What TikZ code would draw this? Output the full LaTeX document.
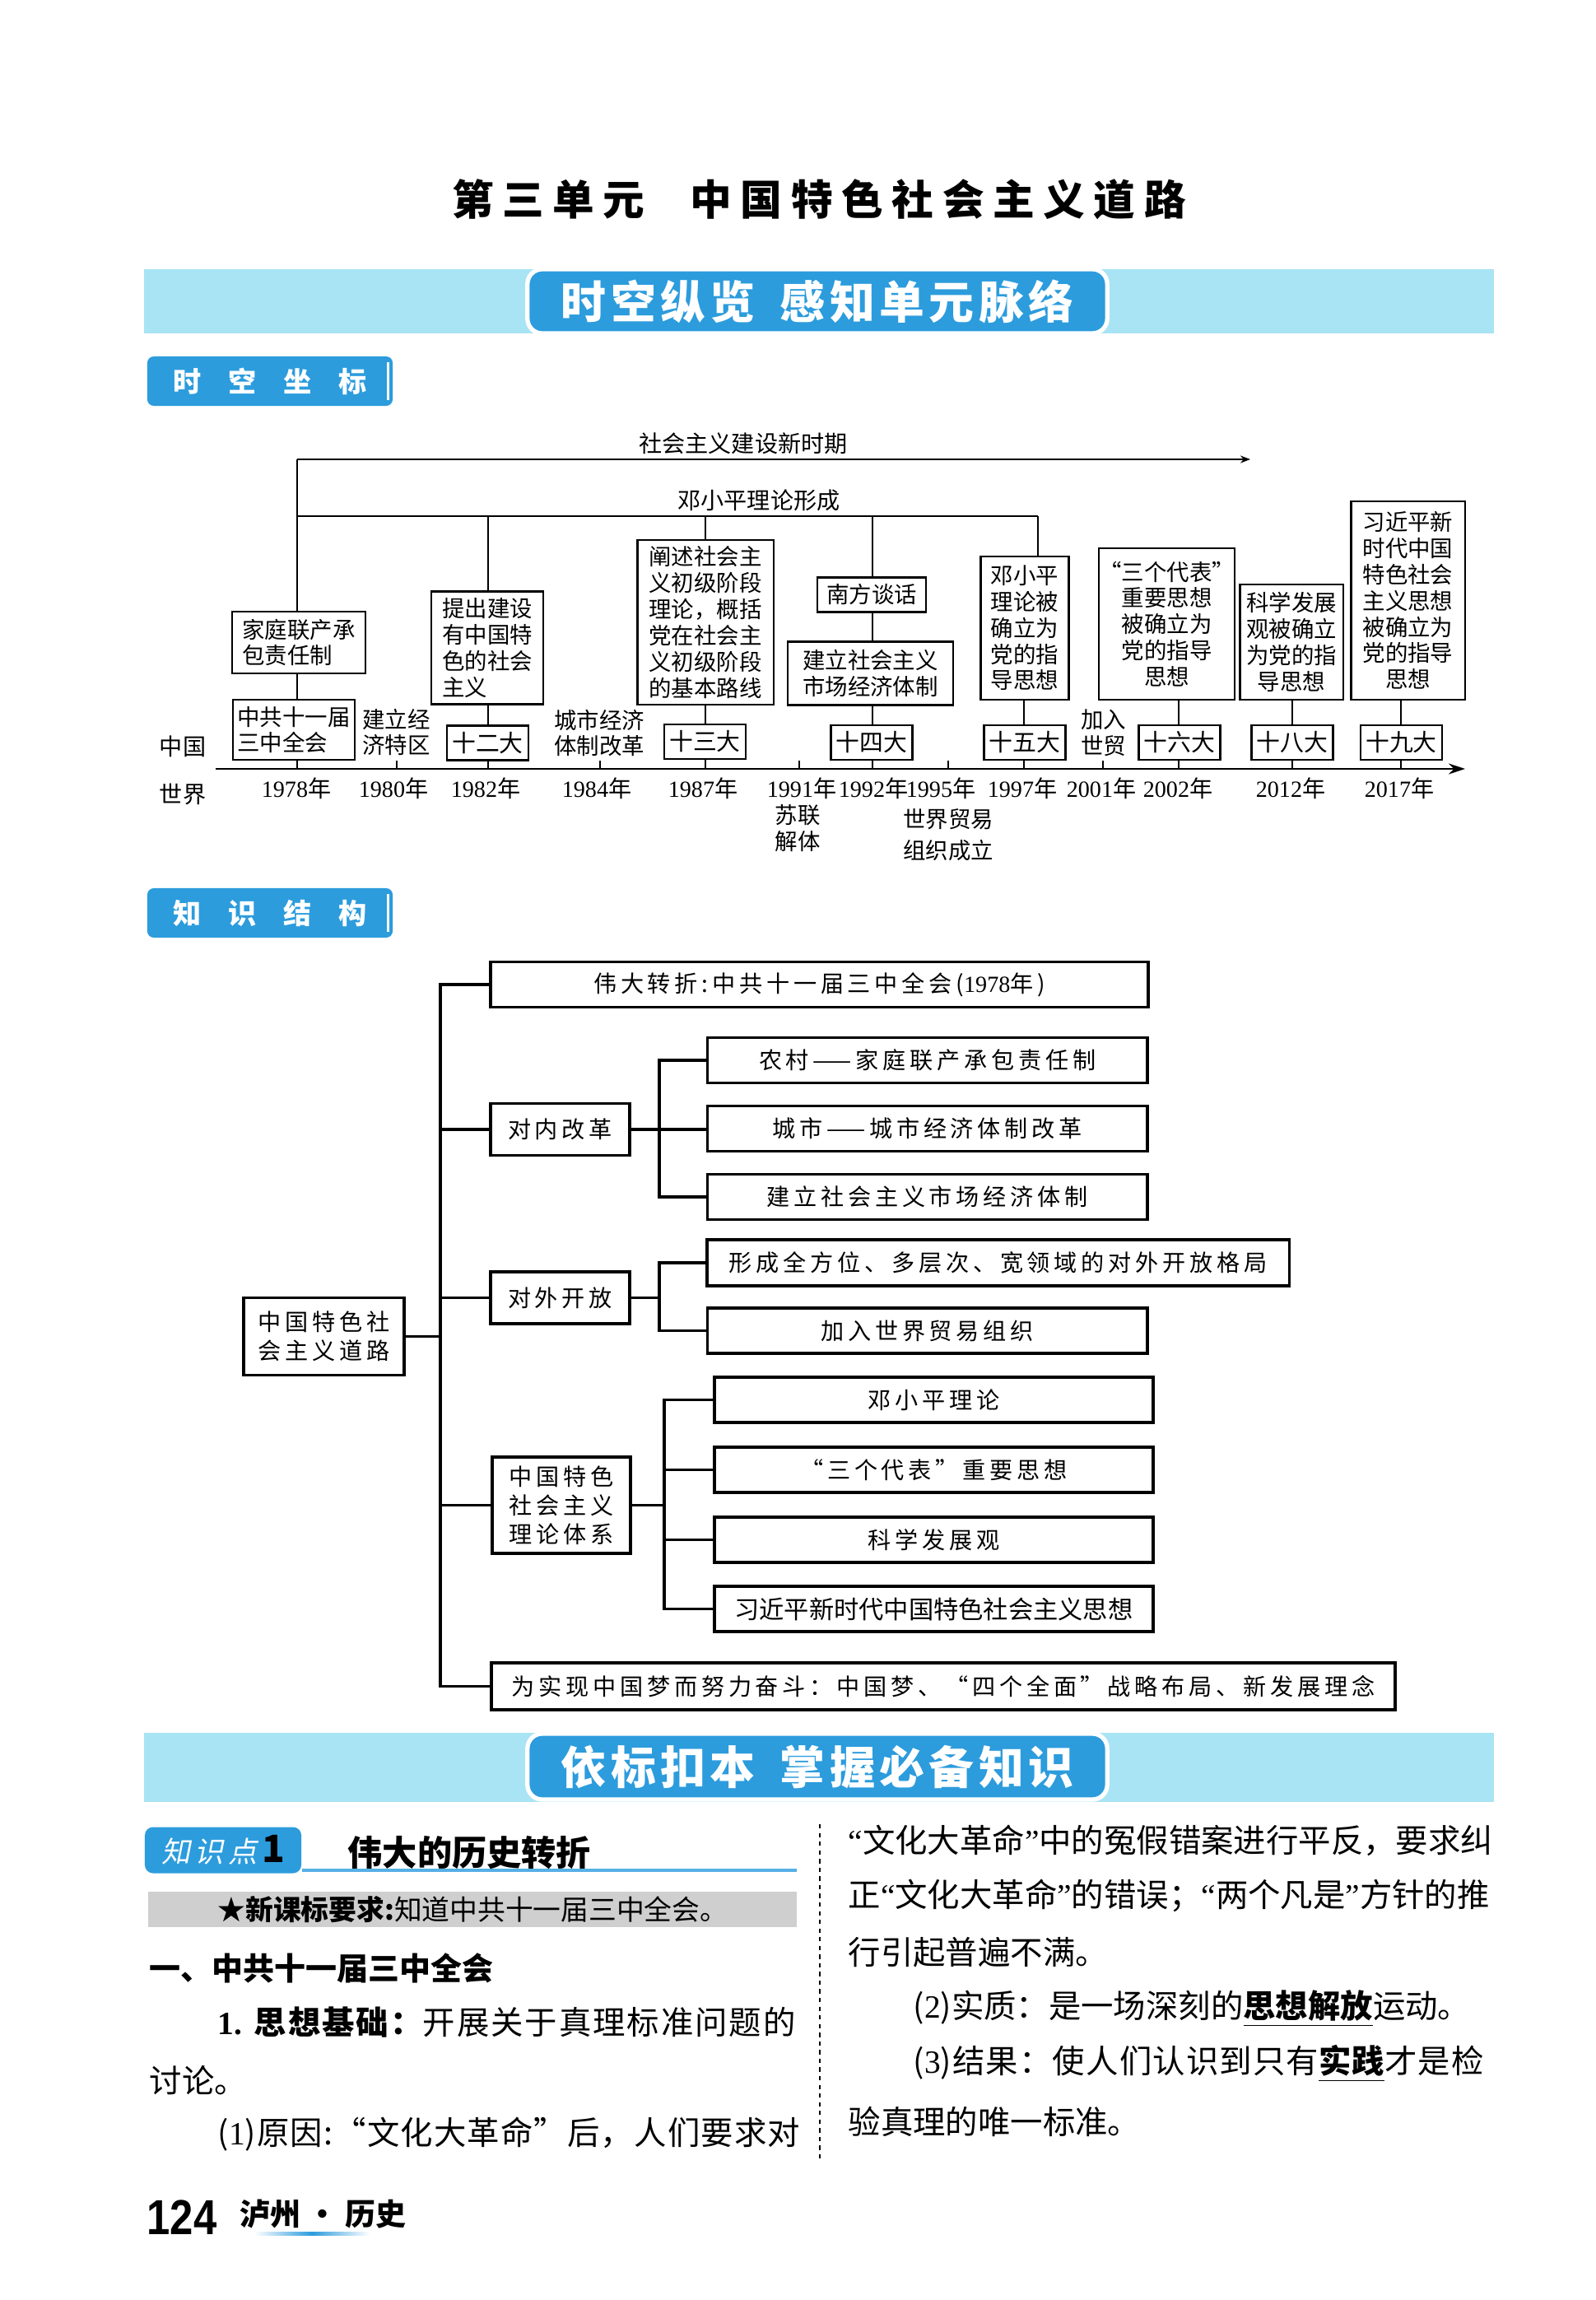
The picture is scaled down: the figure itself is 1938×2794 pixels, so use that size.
\documentclass[tikz,border=0pt]{standalone}
\usepackage{fontspec}
\setmainfont{Noto Sans CJK SC}
\newfontfamily\numf{Liberation Serif}
\newfontfamily\mapf[LetterSpace=17]{Noto Sans CJK SC}
\newfontfamily\titlef[LetterSpace=21]{Noto Sans CJK SC}
\newfontfamily\headf[LetterSpace=10]{Noto Sans CJK SC}
\newfontfamily\handf[FakeSlant=0.2,LetterSpace=15]{Noto Sans CJK SC}
\newfontfamily\bodysp[LetterSpace=5]{Noto Sans CJK SC}
\newfontfamily\bodyspb[LetterSpace=3]{Noto Sans CJK SC}
\newfontfamily\pgnumf[FakeStretch=0.85]{Liberation Sans}
\usetikzlibrary{arrows.meta,positioning}
\definecolor{bandC}{HTML}{A9E4F4}
\definecolor{tabC}{HTML}{2C9CDD}
\definecolor{grayC}{HTML}{CFCFCF}
\newcommand{\nian}[1]{{\numf #1}年}
\newcommand{\keyw}[1]{\underline{\bfseries #1}}
\newcommand{\ql}{{\numf “}}
\newcommand{\qr}{{\numf ”}}
\tikzset{
  tlbox/.style={draw, line width=0.6pt, inner sep=0pt, align=left,
                font=\fontsize{7.8}{9.05}\selectfont},
  dahui/.style={draw, line width=0.6pt, inner sep=0pt, minimum width=0.99cm,
                minimum height=0.42cm, font=\fontsize{8.2}{9}\selectfont},
  lbl/.style={inner sep=0pt, align=left, font=\fontsize{7.8}{9.05}\selectfont},
  yrlbl/.style={inner sep=0pt, font=\fontsize{8}{9}\selectfont},
  tlline/.style={line width=0.6pt},
  mbox/.style={draw, line width=1pt, inner sep=0pt, minimum height=0.55cm,
               font=\fontsize{8}{10}\mapf},
  mline/.style={line width=1pt},
  banner/.style={fill=tabC, draw=white, line width=1.5pt, rounded corners=0.18cm,
                 minimum width=7.04cm, minimum height=0.78cm, text=white,
                 font=\fontsize{15.6}{17}\headf\bfseries},
  tabbox/.style={fill=tabC, rounded corners=0.08cm, minimum width=2.98cm,
                 minimum height=0.6cm, text=white, font=\fontsize{9.7}{11}\bfseries},
  body/.style={anchor=west, inner sep=0pt, font=\fontsize{11.2}{13}\selectfont},
}

\begin{document}
\begin{tikzpicture}[x=0.01cm, y=-0.01cm]
\useasboundingbox (0,0) rectangle (1938,2794);
\fill[white] (0,0) rectangle (1938,2794);

% title and first banner
\node[font=\fontsize{14.4}{16}\titlef\bfseries] (title) at (995,242)
  {第三单元\hspace{0.55cm}中国特色社会主义道路};
\fill[bandC] (175,327) rectangle (1815,405);
\node[banner] (bn1) at (993,366) {时空纵览\hspace{0.3cm}感知单元脉络};
\node[tabbox] (sksb) at (328,463) {时\hspace{0.33cm}空\hspace{0.33cm}坐\hspace{0.33cm}标};
\draw[white, line width=0.8pt] ([xshift=-0.06cm,yshift=-0.08cm]sksb.north east)
  -- ([xshift=-0.06cm,yshift=0.08cm]sksb.south east);

% timeline
\coordinate (xsq) at (361,558);
\coordinate (xsqE) at (1519,558);
\coordinate (dxp) at (361,627);
\coordinate (dxpE) at (1261,627);
\coordinate (axL) at (262,934);
\coordinate (axR) at (1780,934);
\foreach \n/\x in {78/361,80/482,82/593,84/729,87/857,91/971,92/1060,95/1152,
                   97/1244,01/1340,02/1432,12/1570,17/1702}
  \coordinate (y\n) at (\x,934);

\draw[tlline, -{Stealth[length=0.12cm,width=0.09cm]}] (xsq) -- (xsqE);
\draw[tlline] (dxp) -- (dxpE);
\draw[tlline, -{Stealth[length=0.2cm,width=0.13cm]}] (axL) -- (axR);
\node[yrlbl] (xsqt) at (903,539) {社会主义建设新时期};
\node[yrlbl] (dxpt) at (922,608) {邓小平理论形成};
\node[yrlbl] (zg) at (222,907) {中国};
\node[yrlbl] (sj) at (222,965) {世界};

\node[tlbox, minimum width=1.62cm, minimum height=0.75cm] (jtlc) at (363,780.5) {家庭联产承\\包责任制};
\node[tlbox, minimum width=1.48cm, minimum height=0.73cm] (sz3) at (357,886.5) {中共十一届\\三中全会};
\node[tlbox, minimum width=1.36cm, minimum height=1.37cm] (tcjs) at (592,787) {提出建设\\有中国特\\色的社会\\主义};
\node[dahui] (d12) at (592.5,902.5) {十二大};
\node[tlbox, minimum width=1.65cm, minimum height=2.0cm] (cssz) at (857,756)
  {阐述社会主\\义初级阶段\\理论，概括\\党在社会主\\义初级阶段\\的基本路线};
\node[dahui] (d13) at (856.5,901) {十三大};
\node[tlbox, minimum width=1.32cm, minimum height=0.42cm] (nfth) at (1059,722.5) {南方谈话};
\node[tlbox, minimum width=2.01cm, minimum height=0.77cm] (scjz) at (1057.5,818) {建立社会主义\\市场经济体制};
\node[dahui] (d14) at (1059,902) {十四大};
\node[tlbox, align=center, minimum width=1.07cm, minimum height=1.74cm] (dxpl) at (1245,763)
  {邓小平\\理论被\\确立为\\党的指\\导思想};
\node[dahui] (d15) at (1245,902) {十五大};
\node[tlbox, align=center, minimum width=1.48cm, minimum height=1.84cm] (sgdb) at (1417.6,758)
  {“三个代表”\\重要思想\\被确立为\\党的指导\\思想};
\node[dahui] (d16) at (1433,902) {十六大};
\node[tlbox, align=center, minimum width=1.25cm, minimum height=1.4cm] (kxfz) at (1569,780)
  {科学发展\\观被确立\\为党的指\\导思想};
\node[dahui] (d18) at (1570,902) {十八大};
\node[tlbox, align=center, minimum width=1.38cm, minimum height=2.41cm] (xjp) at (1710.5,729.5)
  {习近平新\\时代中国\\特色社会\\主义思想\\被确立为\\党的指导\\思想};
\node[dahui] (d19) at (1702.5,902) {十九大};

\node[lbl] (jljj) at (481.5,889.5) {建立经\\济特区};
\node[lbl] (csjj) at (728,890.5) {城市经济\\体制改革};
\node[lbl] (jrsm) at (1340.6,890) {加入\\世贸};
\node[lbl] (sljt) at (969,1006) {苏联\\解体};
\node[lbl] (wto95) at (1152,1014) {世界贸易\\[1.7pt]组织成立};

\draw[tlline] (xsq) -- (xsq |- jtlc.north);
\draw[tlline] (jtlc.south -| xsq) -- (sz3.north -| xsq);
\draw[tlline] (sz3.south -| xsq) -- (y78);
\draw[tlline] (dxp -| y82) -- (tcjs.north -| y82);
\draw[tlline] (tcjs.south -| y82) -- (d12.north -| y82);
\draw[tlline] (d12.south -| y82) -- (y82);
\draw[tlline] (dxp -| y87) -- (cssz.north -| y87);
\draw[tlline] (cssz.south -| y87) -- (d13.north -| y87);
\draw[tlline] (d13.south -| y87) -- (y87);
\draw[tlline] (dxp -| y92) -- (nfth.north -| y92);
\draw[tlline] (nfth.south -| y92) -- (scjz.north -| y92);
\draw[tlline] (scjz.south -| y92) -- (d14.north -| y92);
\draw[tlline] (d14.south -| y92) -- (y92);
\draw[tlline] (dxpE) -- (dxpE |- dxpl.north);
\draw[tlline] (dxpl.south -| y97) -- (d15.north -| y97);
\draw[tlline] (d15.south -| y97) -- (y97);
\draw[tlline] (sgdb.south -| y02) -- (d16.north -| y02);
\draw[tlline] (d16.south -| y02) -- (y02);
\draw[tlline] (kxfz.south -| y12) -- (d18.north -| y12);
\draw[tlline] (d18.south -| y12) -- (y12);
\draw[tlline] (xjp.south -| y17) -- (d19.north -| y17);
\draw[tlline] (d19.south -| y17) -- (y17);
\foreach \n in {80,84,91,95,01}
  \draw[tlline] (y\n) -- ++(0,-10);

\foreach \x/\yr in {360/1978,478/1980,590/1982,725/1984,854/1987,974/1991,1061/1992,
                    1143/1995,1242/1997,1338/2001,1431/2002,1568/2012,1700/2017}
  \node[yrlbl] at (\x,958) {\nian{\yr}};

% knowledge structure
\node[tabbox] (zsjg) at (328,1109) {知\hspace{0.33cm}识\hspace{0.33cm}结\hspace{0.33cm}构};
\draw[white, line width=0.8pt] ([xshift=-0.06cm,yshift=-0.08cm]zsjg.north east)
  -- ([xshift=-0.06cm,yshift=0.08cm]zsjg.south east);

\node[mbox, minimum width=7.99cm] (wdzz) at (995.5,1196) {伟大转折:中共十一届三中全会({\numf 1978}年)};
\node[mbox, minimum width=1.69cm, minimum height=0.63cm] (dngg) at (680.5,1372) {对内改革};
\node[mbox, minimum width=5.34cm] (nc) at (1126.6,1288) {农村——家庭联产承包责任制};
\node[mbox, minimum width=5.34cm] (cs) at (1126.6,1371) {城市——城市经济体制改革};
\node[mbox, minimum width=5.34cm] (scjj) at (1126.6,1454) {建立社会主义市场经济体制};
\node[mbox, minimum width=1.69cm, minimum height=0.63cm] (dwkf) at (680.5,1576.5) {对外开放};
\node[mbox, minimum width=7.07cm, minimum height=0.56cm] (qfw) at (1212.7,1534) {形成全方位、多层次、宽领域的对外开放格局};
\node[mbox, minimum width=5.34cm] (wto) at (1126.6,1616.5) {加入世界贸易组织};
\node[mbox, align=left, minimum width=1.95cm, minimum height=0.94cm] (root) at (393.4,1623.6) {中国特色社\\会主义道路};
\node[mbox, align=left, minimum width=1.68cm, minimum height=1.17cm] (txi) at (682,1828.7) {中国特色\\社会主义\\理论体系};
\node[mbox, minimum width=5.33cm] (dxpll) at (1134.4,1700.5) {邓小平理论};
\node[mbox, minimum width=5.33cm] (sgdbsx) at (1134.4,1785.5) {“三个代表”重要思想};
\node[mbox, minimum width=5.33cm] (kxfzg) at (1134.4,1870.5) {科学发展观};
\node[mbox, minimum width=5.33cm, font=\fontsize{8.6}{10}\selectfont] (xjpsx) at (1134.4,1954.5) {习近平新时代中国特色社会主义思想};
\node[mbox, minimum width=10.97cm, minimum height=0.57cm] (zgm) at (1146,2048.6)
  {为实现中国梦而努力奋斗：中国梦、“四个全面”战略布局、新发展理念};

\coordinate (trk) at (535,0);
\coordinate (sb1) at (801,0);
\coordinate (sb3) at (807,0);
\draw[mline] (wdzz.west) -- (wdzz.west -| trk) -- (zgm.west -| trk) -- (zgm.west);
\draw[mline] (root.east) -- (root.east -| trk);
\draw[mline] (dngg.west -| trk) -- (dngg.west);
\draw[mline] (dwkf.west -| trk) -- (dwkf.west);
\draw[mline] (txi.west -| trk) -- (txi.west);
\draw[mline] (nc.west) -- (nc.west -| sb1) -- (scjj.west -| sb1) -- (scjj.west);
\draw[mline] (dngg.east) -- (dngg.east -| cs.west);
\draw[mline] (qfw.west) -- (qfw.west -| sb1) -- (wto.west -| sb1) -- (wto.west);
\draw[mline] (dwkf.east) -- (dwkf.east -| sb1);
\draw[mline] (dxpll.west) -- (dxpll.west -| sb3) -- (xjpsx.west -| sb3) -- (xjpsx.west);
\draw[mline] (txi.east) -- (txi.east -| sb3);
\draw[mline] (sgdbsx.west -| sb3) -- (sgdbsx.west);
\draw[mline] (kxfzg.west -| sb3) -- (kxfzg.west);

% second banner and text
\fill[bandC] (175,2105) rectangle (1815,2189);
\node[banner, minimum height=0.8cm] (bn2) at (993,2146) {依标扣本\hspace{0.3cm}掌握必备知识};

\node[fill=tabC, rounded corners=0.1cm, minimum width=1.9cm, minimum height=0.56cm, inner sep=0pt]
  (zsd1) at (271,2247.5) {{\fontsize{10}{11}\handf\color{white}知识点}\,{\fontsize{13}{14}\selectfont\bfseries 1}};
\coordinate (zsdE) at (968,2272);
\draw[tabC!80, line width=1.2pt] (zsd1.east |- zsdE) -- (zsdE);
\node[anchor=west, inner sep=0pt, font=\fontsize{12}{14}\bfseries] (wdls) at (422,2251) {伟大的历史转折};

\node[fill=grayC, minimum width=7.88cm, minimum height=0.43cm, inner sep=0pt] (gband) at (574,2319) {};
\node[body, font=\fontsize{9.6}{11}\selectfont] (kbyq) at (264,2320)
  {{\bfseries ★新课标要求:}知道中共十一届三中全会。};

\coordinate (dsT) at (996,2216);
\coordinate (dsB) at (996,2622);
\draw[line width=0.5pt, dash pattern=on 1.5pt off 1.5pt] (dsT) -- (dsB);

\node[body, font=\fontsize{10.8}{13}\bfseries] (yi) at (181,2391) {一、中共十一届三中全会};
\node[body, font=\fontsize{11.2}{13}\bodysp] (sxjc) at (264,2457) {{\bfseries{\numf 1.} 思想基础：}开展关于真理标准问题的};
\node[body] (tl) at (181,2527) {讨论。};
\node[body, font=\fontsize{11.2}{13}\bodyspb] (yy) at (264,2593) {({\numf 1})原因:“文化大革命”后，人们要求对};

\node[body] (r1) at (1030,2236) {\ql 文化大革命\qr 中的冤假错案进行平反，要求纠};
\node[body] (r2) at (1030,2303) {正\ql 文化大革命\qr 的错误；\ql 两个凡是\qr 方针的推};
\node[body] (r3) at (1030,2372) {行引起普遍不满。};
\node[body] (r4) at (1109,2440) {({\numf 2})实质：是一场深刻的\keyw{思想解放}运动。};
\node[body, font=\fontsize{11.2}{13}\bodyspb] (r5) at (1109,2507) {({\numf 3})结果：使人们认识到只有\keyw{实践}才是检};
\node[body] (r6) at (1030,2577) {验真理的唯一标准。};

% footer
\node[anchor=west, inner sep=0pt, font={\fontsize{17}{18}\pgnumf\bfseries}] (pgno) at (178,2694) {124};
\node[anchor=west, inner sep=0pt, font=\fontsize{10.5}{12}\bfseries] (lzls) at (291,2690) {泸州 · 历史};
\shade[left color=white, right color=white, middle color=tabC] (309,2711) rectangle (449,2715);
\end{tikzpicture}
\end{document}
